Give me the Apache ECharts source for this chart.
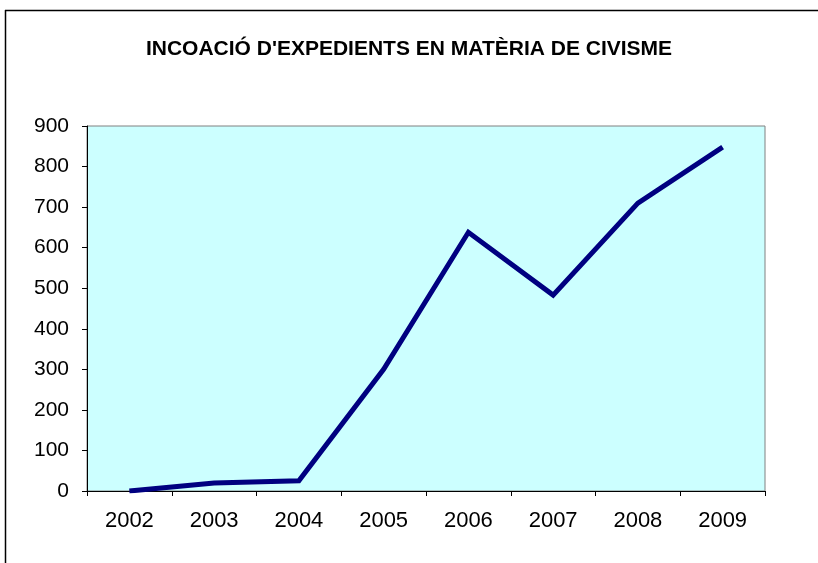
<!DOCTYPE html>
<html>
<head>
<meta charset="utf-8">
<script src="https://cdn.jsdelivr.net/npm/echarts@6/dist/echarts.min.js"></script>
<style>
  html, body { margin: 0; padding: 0; background: #fff; }
  #chart { width: 818px; height: 563px; }
</style>
</head>
<body>
<div id="chart"></div>
<script>
// dades del gràfic
const years = ['2002', '2003', '2004', '2005', '2006', '2007', '2008', '2009']
const expedients = [0, 20, 25, 300, 638, 483, 710, 848]
const yTicks = [0, 100, 200, 300, 400, 500, 600, 700, 800, 900]

const chart = echarts.init(document.getElementById('chart'))

const option = {
  animation: false,
  backgroundColor: '#ffffff',
  title: {
    text: "INCOACIÓ D'EXPEDIENTS EN MATÈRIA DE CIVISME",
    left: 'center',
    top: 34,
    textStyle: {
      fontFamily: 'Liberation Sans, Arial, sans-serif',
      fontSize: 21,
      fontWeight: 'bold',
      color: '#000'
    }
  },
  graphic: [
    // vora del gràfic (només superior i esquerra)
    {
      type: 'line',
      shape: {x1: 5, y1: 10.5, x2: 818, y2: 10.5},
      style: {stroke: '#000', lineWidth: 1.5}
    },
    {
      type: 'line',
      shape: {x1: 5.5, y1: 10, x2: 5.5, y2: 563},
      style: {stroke: '#000', lineWidth: 1.5}
    }
  ],
  grid: {
    left: 87,
    right: 53,
    top: 126,
    bottom: 72,
    show: true,
    backgroundColor: '#ccffff',
    borderColor: '#808080',
    borderWidth: 1
  },
  xAxis: {
    type: 'category',
    data: years,
    boundaryGap: true,
    axisLine: {lineStyle: {color: '#000', width: 1}},
    axisTick: {show: true, alignWithLabel: false, length: 5, lineStyle: {color: '#000'}},
    axisLabel: {
      color: '#000',
      fontFamily: 'Liberation Sans, Arial, sans-serif',
      fontSize: 22,
      margin: 19
    },
    splitLine: {show: false}
  },
  yAxis: {
    type: 'value',
    min: yTicks[0],
    max: yTicks[yTicks.length - 1],
    interval: 100,
    axisLine: {show: true, lineStyle: {color: '#000', width: 1}},
    axisTick: {show: true, length: 5, lineStyle: {color: '#000'}},
    axisLabel: {
      color: '#000',
      fontFamily: 'Liberation Sans, Arial, sans-serif',
      fontSize: 21,
      margin: 18
    },
    splitLine: {show: false}
  },
  series: [
    {
      name: 'Expedients',
      type: 'line',
      data: expedients,
      symbol: 'none',
      lineStyle: {color: '#000080', width: 5, join: 'miter'},
      itemStyle: {color: '#000080'}
    }
  ]
}

chart.setOption(option)
</script>
</body>
</html>
